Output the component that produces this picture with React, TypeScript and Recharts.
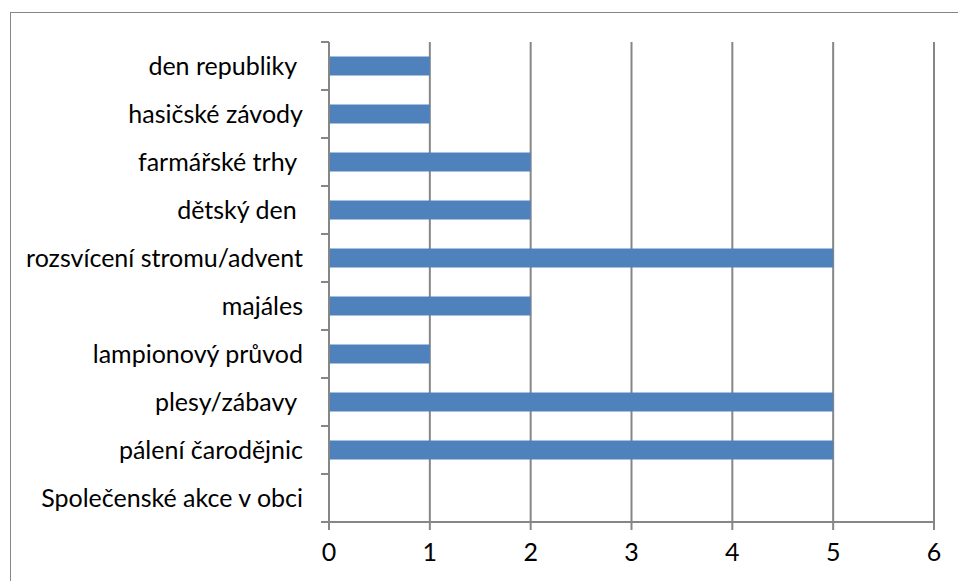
import { Bar, BarChart, CartesianGrid, XAxis, YAxis } from 'recharts';

const categories = [
  'den republiky ',
  'hasičské závody',
  'farmářské trhy ',
  'dětský den ',
  'rozsvícení stromu/advent',
  'majáles',
  'lampionový průvod',
  'plesy/zábavy ',
  'pálení čarodějnic',
  'Společenské akce v obci',
];
const counts = [1, 1, 2, 2, 5, 2, 1, 5, 5, 0];
const xTicks = [0, 1, 2, 3, 4, 5, 6];

const data = categories.map((name, i) => ({ name, value: counts[i] }));

const W = 958;
const H = 581;
const MARGIN = { top: 42, right: 24, bottom: 0, left: 0 };
const X_AXIS_H = 59;
const Y_AXIS_W = 329;
const TICK_SIZE = 8;
const TICK_MARGIN = 18;
const AXIS = '#868686';
const FONT = 'Lato, "Open Sans", sans-serif';
const FONT_SIZE = 25;
const band = (H - MARGIN.top - MARGIN.bottom - X_AXIS_H) / categories.length;

function CategoryTick(props: any) {
  const { x, y, payload, index } = props;
  const axisX = x + TICK_MARGIN + TICK_SIZE;
  return (
    <g>
      <line x1={axisX - TICK_SIZE} x2={axisX} y1={y - band / 2} y2={y - band / 2} stroke={AXIS} strokeWidth={2} />
      {index === categories.length - 1 && (
        <line x1={axisX - TICK_SIZE} x2={axisX} y1={y + band / 2} y2={y + band / 2} stroke={AXIS} strokeWidth={2} />
      )}
      <text
        x={x}
        y={y}
        dy="0.35em"
        textAnchor="end"
        fill="#000"
        fontSize={FONT_SIZE}
        fontFamily={FONT}
        style={{ whiteSpace: 'pre' }}
      >
        {payload.value}
      </text>
    </g>
  );
}

export default function App() {
  return (
    <div style={{ position: 'absolute', left: 0, top: 0, width: W, height: H, overflow: 'hidden', background: '#fff' }}>
      <div
        style={{
          position: 'absolute',
          left: 10,
          top: 12,
          width: W + 50,
          height: H + 50,
          border: `1px solid ${AXIS}`,
        }}
      />
      <div style={{ position: 'absolute', left: 0, top: 0 }}>
        <BarChart width={W} height={H} data={data} layout="vertical" margin={MARGIN} barCategoryGap="30%">
          <CartesianGrid horizontal={false} stroke={AXIS} strokeWidth={2} />
          <XAxis
            type="number"
            domain={[0, 6]}
            ticks={xTicks}
            height={X_AXIS_H}
            stroke={AXIS}
            strokeWidth={2}
            tickSize={TICK_SIZE}
            tickMargin={13}
            tick={{ fill: '#000', fontSize: FONT_SIZE, fontFamily: FONT }}
            interval={0}
          />
          <YAxis
            type="category"
            dataKey="name"
            width={Y_AXIS_W}
            stroke={AXIS}
            strokeWidth={2}
            tickLine={false}
            tickSize={TICK_SIZE}
            tickMargin={TICK_MARGIN}
            tick={<CategoryTick />}
            interval={0}
          />
          <Bar dataKey="value" fill="#4F81BD" isAnimationActive={false} />
        </BarChart>
      </div>
    </div>
  );
}
